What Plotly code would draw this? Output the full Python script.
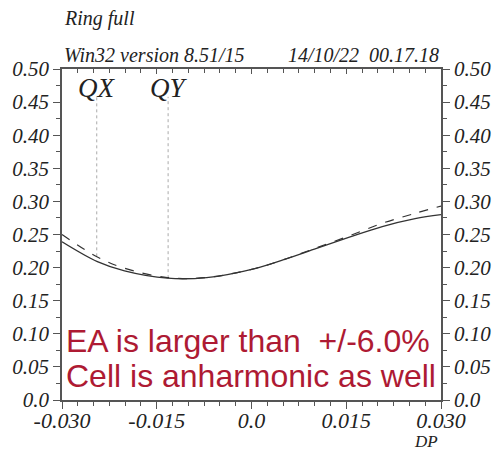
import plotly.graph_objects as go

# ---- data ----
dp = [-0.030, -0.0244, -0.0201, -0.0133, -0.0071, 0.0007, 0.0051, 0.0103, 0.0155, 0.0207, 0.0259, 0.030]
solid_vals = [0.239, 0.209, 0.195, 0.184, 0.185, 0.199, 0.212, 0.229, 0.246, 0.262, 0.274, 0.280]
dashed_vals = [0.250, 0.216, 0.199, 0.185, 0.185, 0.199, 0.212, 0.230, 0.248, 0.267, 0.282, 0.293]

marker_names = ["QX", "QY"]
marker_pos = [-0.0245, -0.0132]
marker_top = 0.458
marker_bottom = [0.217, 0.184]

x_ticks = [-0.030, -0.015, 0.0, 0.015, 0.030]
x_tick_labels = ["-0.030", "-0.015", "0.0", "0.015", "0.030"]
y_ticks = [0.0, 0.05, 0.10, 0.15, 0.20, 0.25, 0.30, 0.35, 0.40, 0.45, 0.50]
y_tick_labels = ["0.0", "0.05", "0.10", "0.15", "0.20", "0.25", "0.30", "0.35", "0.40", "0.45", "0.50"]

warn_lines = ["EA is larger than\u00a0\u00a0+/-6.0%", "Cell is anharmonic as well"]

SERIF = "Liberation Serif"
AXC = "#555555"
LINEC = "#333333"

fig = go.Figure()

# marker vertical dotted lines
for name, xp, yb in zip(marker_names, marker_pos, marker_bottom):
    fig.add_trace(go.Scatter(x=[xp, xp], y=[yb, marker_top], mode="lines",
                             line=dict(color="#aaaaaa", width=1, dash="dot"),
                             showlegend=False, hoverinfo="skip"))

fig.add_trace(go.Scatter(x=dp, y=dashed_vals, mode="lines", line_shape="spline",
                         line=dict(color=LINEC, width=1.2, dash="dash"), showlegend=False))
fig.add_trace(go.Scatter(x=dp, y=solid_vals, mode="lines", line_shape="spline",
                         line=dict(color=LINEC, width=1.3), showlegend=False))
# invisible trace for the mirrored axes
fig.add_trace(go.Scatter(x=[dp[0]], y=[solid_vals[0]], xaxis="x2", yaxis="y2",
                         mode="markers", marker=dict(opacity=0), showlegend=False, hoverinfo="skip"))

tickfont = dict(family=SERIF, size=21, color="#222222", style="italic")
xtickfont = dict(family=SERIF, size=22, color="#222222", style="italic")

fig.update_layout(
    width=503, height=452,
    margin=dict(l=58, r=60, t=69, b=52),
    paper_bgcolor="white", plot_bgcolor="white",
    xaxis=dict(range=[-0.030, 0.030], tickvals=x_ticks, ticktext=x_tick_labels,
               ticks="outside", ticklen=7, tickcolor=AXC, showline=True, linecolor=AXC, linewidth=1.5,
               showgrid=False, zeroline=False, tickfont=xtickfont, ticklabelstandoff=-7,
               minor=dict(dtick=0.0025, ticks="outside", ticklen=4, tickcolor=AXC, showgrid=False)),
    xaxis2=dict(range=[-0.030, 0.030], overlaying="x", side="top", matches="x",
                tickvals=x_ticks, showticklabels=False,
                ticks="inside", ticklen=5, tickcolor=AXC, showline=True, linecolor=AXC, linewidth=1.5,
                showgrid=False, zeroline=False,
                minor=dict(dtick=0.0025, ticks="inside", ticklen=4, tickcolor=AXC, showgrid=False)),
    yaxis=dict(range=[0, 0.50], tickvals=y_ticks, ticktext=y_tick_labels,
               ticks="outside", ticklen=7, tickcolor=AXC, showline=True, linecolor=AXC, linewidth=1.5,
               showgrid=False, zeroline=False, tickfont=tickfont,
               minor=dict(dtick=0.025, ticks="outside", ticklen=4, tickcolor=AXC, showgrid=False)),
    yaxis2=dict(range=[0, 0.50], overlaying="y", side="right", matches="y",
                tickvals=y_ticks, ticktext=y_tick_labels,
                ticks="outside", ticklen=7, tickcolor=AXC, showline=True, linecolor=AXC, linewidth=1.5,
                showgrid=False, zeroline=False, tickfont=tickfont,
                minor=dict(dtick=0.025, ticks="outside", ticklen=4, tickcolor=AXC, showgrid=False)),
)

ann_font = dict(family=SERIF, size=20, color="#222222", style="italic")
fig.add_annotation(text="Ring full", xref="paper", yref="paper", x=0.0, y=1.154,
                   xanchor="left", yanchor="middle", showarrow=False, font=ann_font)
fig.add_annotation(text="Win32 version 8.51/15", xref="paper", yref="paper", x=0.0, y=1.042,
                   xanchor="left", yanchor="middle", showarrow=False, font=ann_font)
fig.add_annotation(text="14/10/22\u00a0\u00a000.17.18", xref="paper", yref="paper", x=1.0, y=1.042,
                   xanchor="right", yanchor="middle", showarrow=False, font=ann_font)
fig.add_annotation(text="DP", xref="paper", yref="paper", x=0.995, y=-0.157,
                   xanchor="right", yanchor="bottom", showarrow=False, borderpad=0,
                   font=dict(family=SERIF, size=17, color="#222222", style="italic"))

for name, xp in zip(marker_names, marker_pos):
    fig.add_annotation(text=name, x=xp, y=0.471, xref="x", yref="y", showarrow=False,
                       xanchor="center", yanchor="middle",
                       font=dict(family=SERIF, size=27, color="#222222", style="italic"))

for line, yp in zip(warn_lines, [0.178, 0.072]):
    fig.add_annotation(text=line, xref="paper", yref="paper", x=0.004, y=yp,
                       xanchor="left", yanchor="middle", align="left", showarrow=False,
                       font=dict(family="Liberation Sans", size=32, color="#ae1a33"))

fig.write_html("out.html", config={"displayModeBar": False},
               post_script="document.body.style.margin='0';")
